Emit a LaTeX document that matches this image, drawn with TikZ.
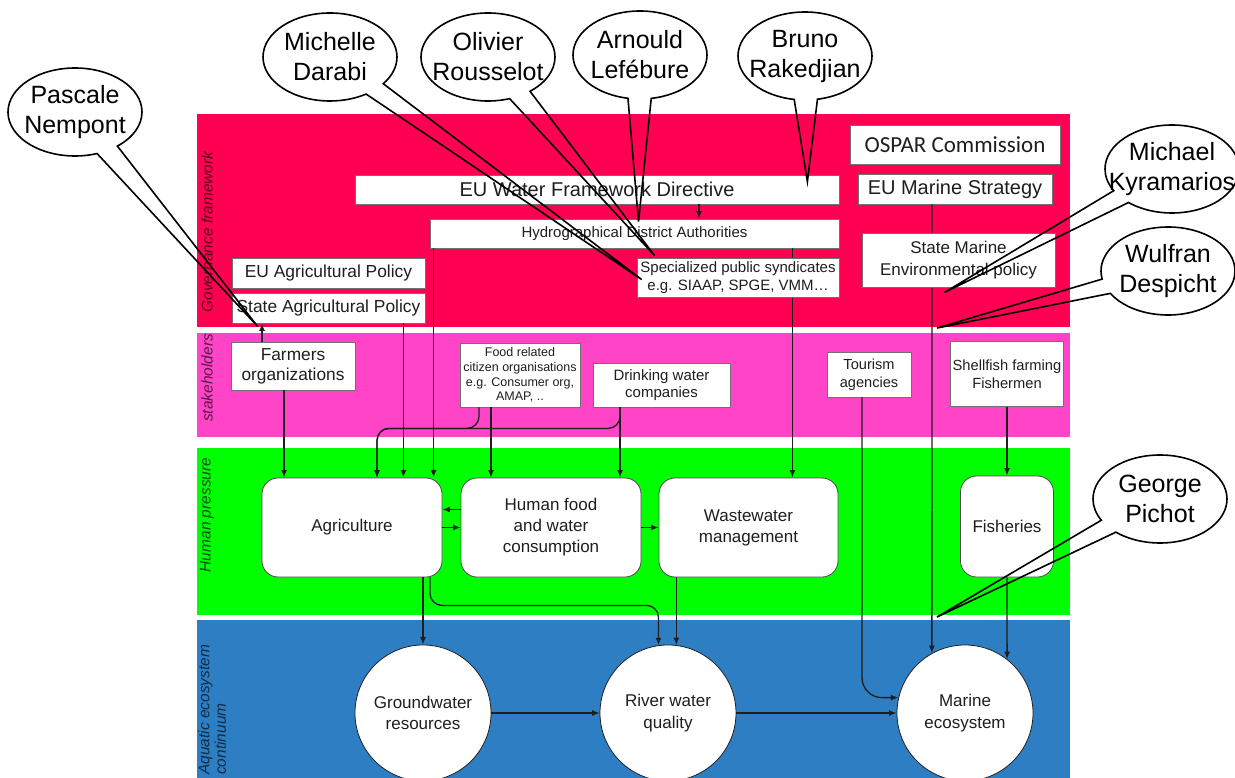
\documentclass[tikz,border=0pt]{standalone}
\usepackage{fontspec}
\setmainfont{Liberation Sans}
\newfontfamily\ospfont{Carlito}
\definecolor{DIAGred}{HTML}{FF0052}
\definecolor{DIAGpink}{HTML}{FF44C8}
\definecolor{DIAGgreen}{HTML}{00FF00}
\definecolor{DIAGblue}{HTML}{2E7EC4}
\definecolor{DIAGgray}{HTML}{707070}
\definecolor{DIAGink}{HTML}{1E1E1E}
\usetikzlibrary{calc, arrows.meta, shapes.callouts}

\begin{document}
\begin{tikzpicture}[x=1pt, y=-1pt,
      rectbox/.style={draw=DIAGgray, line width=0.8pt, fill=white, text=DIAGink,
         inner sep=0pt, align=center},
      pressbox/.style={rectbox, draw=DIAGink!80, rounded corners=16pt,
         minimum width=180pt, minimum height=99pt, font=\fontsize{17}{21}\selectfont},
      ecocircle/.style={circle, draw=DIAGink, line width=0.8pt, fill=white, text=DIAGink,
         minimum size=136pt, inner sep=0pt, align=center, font=\fontsize{17}{21.5}\selectfont},
      link/.style={-{Latex[length=7.5pt, width=6pt]}, line width=1.3pt, DIAGink},
      bandlabel/.style={rotate=90, font=\itshape\fontsize{15.5}{16.5}\selectfont, inner sep=1pt},
      namebubble/.style={ellipse callout, draw=black, line width=1.6pt,
         minimum width=134pt, minimum height=88pt, inner xsep=-20pt, inner ysep=-4pt,
         callout pointer arc=20, align=center, font=\fontsize{25}{30}\selectfont}]
      \useasboundingbox (0,0) rectangle (1235,778);
      % Bands
      \fill[DIAGred] (197,114) rectangle (1070,327);
      \fill[DIAGpink] (197,333) rectangle (1070,437);
      \fill[DIAGgreen] (197,448) rectangle (1070,615);
      \fill[DIAGblue] (197,620) rectangle (1070,778);
      % Band labels
      \node[bandlabel, text=DIAGred!35!black] (lgov) at (207,232) {Governance framework};
      \node[bandlabel, text=DIAGpink!35!black] (lstake) at (207,378) {stakeholders};
      \node[bandlabel, text=DIAGgreen!30!black] (lpress) at (207,515) {Human pressure};
      \node[bandlabel, text=DIAGblue!35!black, anchor=north west, align=left] (laqua)
         at (197,776) {Aquatic ecosystem\\continuum};
      % Governance framework
      \node[rectbox, minimum width=484pt, minimum height=29pt,
         font=\fontsize{20}{24}\selectfont] (wfd) at (597,189.5) {EU Water Framework Directive};
      \node[rectbox, minimum width=409pt, minimum height=29pt,
         font=\fontsize{15}{18}\selectfont] (hda) at (634.5,233.5) {Hydrographical District Authorities};
      \node[rectbox, minimum width=193pt, minimum height=30pt,
         font=\fontsize{17.4}{21}\selectfont] (euagri) at (328.5,273) {EU Agricultural Policy};
      \node[rectbox, minimum width=193pt, minimum height=30pt,
         font=\fontsize{17.4}{21}\selectfont] (stateagri) at (328.5,308) {State Agricultural Policy};
      \node[rectbox, minimum width=210pt, minimum height=39pt,
         font=\ospfont\fontsize{23}{27}\selectfont] (ospar) at (955,144.5) {OSPAR Commission};
      \node[rectbox, minimum width=194pt, minimum height=30pt,
         font=\fontsize{20}{24}\selectfont] (eums) at (955,189) {EU Marine Strategy};
      % Stakeholders
      \node[rectbox, minimum width=124pt, minimum height=48pt,
         font=\fontsize{17.3}{20}\selectfont] (farmers) at (293,366) {Farmers\\organizations};
      \node[rectbox, minimum width=120pt, minimum height=64pt,
         font=\fontsize{12.5}{14.7}\selectfont] (citizen) at (520,375)
         {Food related\\citizen organisations\\e.g. Consumer org,\\AMAP, ..};
      \node[rectbox, minimum width=137pt, minimum height=44pt,
         font=\fontsize{15}{17.7}\selectfont] (drink) at (661.5,385) {Drinking water\\companies};
      \node[rectbox, minimum width=84pt, minimum height=45pt,
         font=\fontsize{14.6}{17.7}\selectfont] (tour) at (869,374.5) {Tourism\\agencies};
      \node[rectbox, minimum width=113pt, minimum height=65pt,
         font=\fontsize{14.7}{18}\selectfont] (shell) at (1007,374) {Shellfish farming\\Fishermen};
      % Human pressure
      \node[pressbox] (agri) at (352,527.5) {Agriculture};
      \node[pressbox] (food) at (551,527.5) {Human food\\and water\\consumption};
      \node[pressbox, minimum width=179pt] (waste) at (748.5,527.5) {Wastewater\\management};
      \node[pressbox, minimum width=93pt, minimum height=101pt] (fish) at (1007,526.5) {Fisheries};
      % Aquatic ecosystem continuum
      \node[ecocircle] (ground) at (423,713) {Groundwater\\resources};
      \node[ecocircle] (river) at (668,713) {River water\\quality};
      \node[ecocircle] (marine) at (965,713) {Marine\\ecosystem};
      % Links from governance
      \coordinate (wfdA) at ($(wfd.south)+(102,0)$);
      \coordinate (hdaL) at ($(hda.south west)+(4,0)$);
      \coordinate (hdaR) at ($(hda.south east)+(-47,0)$);
      \coordinate (saR) at ($(stateagri.south east)+(-22,0)$);
      \coordinate (eumsA) at ($(eums.south)+(-23,0)$);
      \draw[link] (wfdA) -- (wfdA |- hda.north);
      \draw[link] (hdaL) -- (hdaL |- agri.north);
      \draw[link] (hdaR) -- (hdaR |- waste.north);
      \draw[link] (saR) -- (saR |- agri.north);
      \draw[link] (eumsA) -- (marine.119);
      % Links from stakeholders
      \coordinate (farmU) at ($(farmers.north)+(-31,0)$);
      \coordinate (farmD) at ($(farmers.south)+(-9,0)$);
      \coordinate (citA) at ($(citizen.south)+(-41,0)$);
      \coordinate (citB) at ($(citizen.south)+(-29,0)$);
      \coordinate (drA) at ($(drink.south)+(-41.5,0)$);
      \coordinate (agriC) at ($(agri.north)+(25,0)$);
      \coordinate (tourA) at ($(tour.south)+(-7,0)$);
      \draw[link] (farmU) -- (farmU |- stateagri.south);
      \draw[link] (farmD) -- (farmD |- agri.north);
      \draw[link, rounded corners=12pt] (citA) -- ++(0,21) -| (agriC);
      \draw[link, rounded corners=12pt] (drA) -- ++(0,21) -| (agriC);
      \draw[link] (citB) -- (citB |- food.north);
      \draw[link] (drA) -- (drA |- food.north);
      \draw[link, rounded corners=20pt] (tourA) |- (marine.167);
      \draw[link] (shell.south) -- (fish.north);
      % Links between pressures and ecosystem
      \coordinate (agriR) at ($(agri.south)+(78,0)$);
      \draw[link] (agri.east) -- (food.west);
      \draw[link] ([yshift=18pt]food.west) -- ([yshift=18pt]agri.east);
      \draw[link] (food.east) -- (waste.west);
      \draw[link] (agri.south -| ground.north) -- (ground.north);
      \draw[link, rounded corners=12pt] (agriR) -- ++(0,28) -| (river.98);
      \draw[link] (waste.south -| river.83) -- (river.83);
      \draw[link] (fish.south) -- (marine.52);
      \draw[link] (ground.east) -- (river.west);
      \draw[link] (river.east) -- (marine.west);
      % Boxes drawn over the long links
      \node[rectbox, minimum width=202pt, minimum height=39pt,
         font=\fontsize{15}{17.7}\selectfont] (synd) at (738,277.5)
         {Specialized public syndicates\\e.g. SIAAP, SPGE, VMM…};
      \node[rectbox, minimum width=193pt, minimum height=54pt,
         font=\fontsize{17}{21.5}\selectfont] (smep) at (958.5,260) {State Marine\\Environmental policy};
      % Name callouts
      \node[namebubble, callout absolute pointer={($(stateagri.south west)+(26,3)$)}]
         (pascale) at (75,112) {Pascale\\Nempont};
      \node[namebubble, callout absolute pointer={($(synd.west)+(5,2)$)}]
         (michelle) at (330,57) {Michelle\\Darabi};
      \node[namebubble, callout absolute pointer={($(synd.north west)+(18,-2)$)}]
         (olivier) at (488,57) {Olivier\\Rousselot};
      \node[namebubble, callout absolute pointer={($(hda.north)+(4,3)$)}]
         (arnould) at (640,55) {Arnould\\Lefébure};
      \node[namebubble, callout absolute pointer={($(wfd.north east)+(-32,7)$)}]
         (bruno) at (805,56) {Bruno\\Rakedjian};
      \node[namebubble, callout absolute pointer={($(smep.south)+(-14,5)$)}]
         (michael) at (1172,169) {Michael\\Kyramarios};
      \node[namebubble, callout absolute pointer={(937,328)}]
         (wulfran) at (1168,271) {Wulfran\\Despicht};
      \node[namebubble, callout absolute pointer={(937,617)}]
         (george) at (1160,499) {George\\Pichot};
   \end{tikzpicture}
\end{document}
